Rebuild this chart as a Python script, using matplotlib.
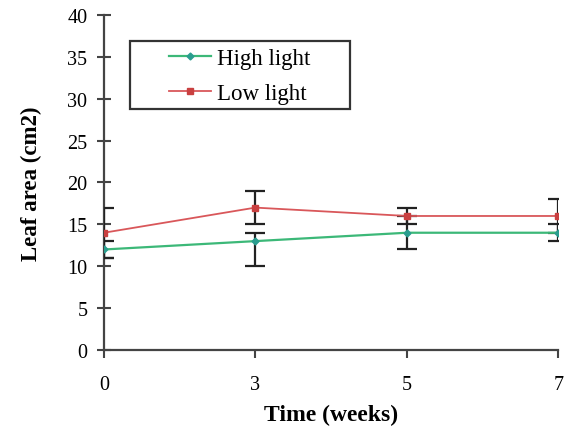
import matplotlib.pyplot as plt
from matplotlib.patches import Rectangle
import numpy as np

# data
weeks = ['0', '3', '5', '7']
high_light = [12, 13, 14, 14]
high_err_lo = [1, 3, 2, 1]
high_err_hi = [1, 1, 2, 1]
low_light = [14, 17, 16, 16]
low_err = [3, 2, 1, 2]

plt.rcParams['font.family'] = ['Liberation Serif', 'DejaVu Serif']

fig = plt.figure(figsize=(5.65, 4.31), dpi=100)
ax = fig.add_axes([0.184, 0.1856, 0.804, 0.7774])

x = np.arange(len(weeks))
green = '#3cb878'
red = '#d9575a'

ax.errorbar(x, high_light, yerr=[high_err_lo, high_err_hi], color=green, lw=1.6,
            marker='D', ms=3.5, mfc='#2a9d8f', mec='#2a9d8f',
            ecolor='#222222', elinewidth=1.6, capsize=7, capthick=1.6,
            label='High light', zorder=3)
ax.errorbar(x, low_light, yerr=low_err, color=red, lw=1.3,
            marker='s', ms=5, mfc='#c94040', mec='#c94040',
            ecolor='#222222', elinewidth=1.6, capsize=7, capthick=1.6,
            label='Low light', zorder=3)

ax.set_xlim(0, 3)
ax.set_ylim(0, 40)
ax.set_xticks(x)
ax.set_xticklabels(weeks)
ax.set_yticks(range(0, 41, 5))
ax.tick_params(length=6, width=1.5, labelsize=14.5, color='#444444')
ax.tick_params(axis='y', direction='inout', length=10, pad=7)
ax.tick_params(axis='x', direction='out', pad=12)

for s in ['top', 'right']:
    ax.spines[s].set_visible(False)
for s in ['left', 'bottom']:
    ax.spines[s].set_linewidth(1.6)
    ax.spines[s].set_color('#444444')

ax.set_xlabel('Time (weeks)', fontsize=17, fontweight='bold', labelpad=7)
ax.set_ylabel('Leaf area (cm2)', fontsize=16.5, fontweight='bold', labelpad=18)

# legend frame drawn separately so the entries sit centred in it
ax.add_patch(Rectangle((0.057, 0.72), 0.485, 0.202, transform=ax.transAxes,
                       facecolor='white', edgecolor='#333333', lw=1.6, zorder=4))
h, l = ax.get_legend_handles_labels()
leg = ax.legend([hh[0] for hh in h], l, loc='center',
                bbox_to_anchor=(0.2995, 0.818), frameon=False,
                fontsize=16.5, handlelength=1.8, borderpad=0,
                labelspacing=0.6, handletextpad=0.3)
leg.set_zorder(5)

fig.savefig('out.png', dpi=100)
